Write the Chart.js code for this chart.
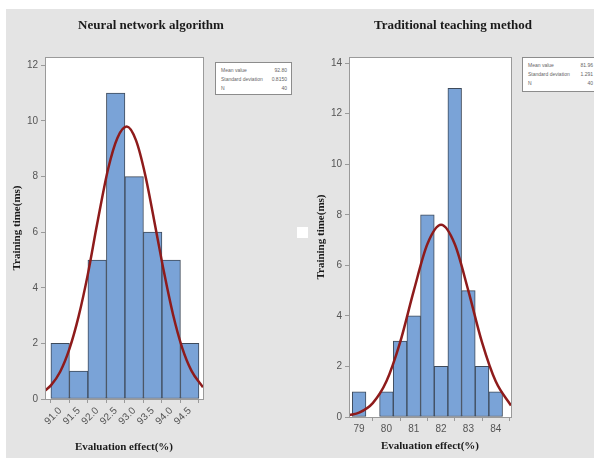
<!DOCTYPE html>
<html>
<head>
<meta charset="utf-8">
<script src="https://cdn.jsdelivr.net/npm/chart.js@4.4.1/dist/chart.umd.min.js"></script>
<style>
  body { margin: 0; width: 594px; height: 458px; overflow: hidden; position: relative; background: #fff; }
  #bg { position: absolute; left: 6px; top: 9px; width: 588px; height: 449px; background: #e4e4e4; }
  canvas { position: absolute; top: 0; }
  .title { position: absolute; top: 17px; transform: translateX(-50%); white-space: nowrap;
           font: bold 13px "Liberation Serif", "Times New Roman", serif; color: #1a1a1a; }
  .stats { position: absolute; background: #fff; border: 1px solid #8c8c8c; box-sizing: border-box;
           padding: 3px 4px 0 5px; font: 5px "Liberation Sans", Arial, sans-serif; color: #666; }
  .stats div { display: flex; justify-content: space-between; height: 9px; line-height: 9px; }
  #dot { position: absolute; left: 297px; top: 227px; width: 11px; height: 11px; background: #fff; }
</style>
</head>
<body>
<div id="bg"></div>
<canvas id="nn" width="300" height="458" style="left:0"></canvas>
<canvas id="tt" width="294" height="458" style="left:300px"></canvas>
<div class="title" style="left:151px">Neural network algorithm</div>
<div class="title" style="left:453px">Traditional teaching method</div>
<div class="stats" style="left:215px; top:62px; width:77px; height:33px">
  <div><span>Mean value</span><span>92.80</span></div>
  <div><span>Standard deviation</span><span>0.8150</span></div>
  <div><span>N</span><span>40</span></div>
</div>
<div class="stats" style="left:522px; top:57px; width:76px; height:35px">
  <div><span>Mean value</span><span>81.96</span></div>
  <div><span>Standard deviation</span><span>1.291</span></div>
  <div><span>N</span><span>40</span></div>
</div>
<div id="dot"></div>
<script>
// neural network algorithm - histogram bins (bin centres) and counts
var nnBins = [91.0, 91.5, 92.0, 92.5, 93.0, 93.5, 94.0, 94.5];
var nnCounts = [2, 1, 5, 11, 8, 6, 5, 2];
// fitted curve
var nnCurveX = [90.59, 90.75, 91.0, 91.25, 91.5, 91.75, 92.0, 92.3, 92.55, 92.8, 93.05, 93.3, 93.6, 93.8, 94.05, 94.3, 94.55, 94.86];
var nnCurveY = [0.3, 0.49, 0.98, 1.8, 2.98, 4.5, 6.3, 8.3, 9.4, 9.8, 9.3, 8.05, 6.0, 4.6, 3.04, 1.83, 1.01, 0.42];
var nnXTicks = [91.0, 91.5, 92.0, 92.5, 93.0, 93.5, 94.0, 94.5];
var nnYTicks = [0, 2, 4, 6, 8, 10, 12];

// traditional teaching method
var ttBins = [79.0, 79.5, 80.0, 80.5, 81.0, 81.5, 82.0, 82.5, 83.0, 83.5, 84.0];
var ttCounts = [1, 0, 1, 3, 4, 8, 2, 13, 5, 2, 1];
var ttCurveX = [78.63, 79.0, 79.5, 80.0, 80.5, 81.0, 81.5, 82.0, 82.5, 83.0, 83.5, 84.0, 84.56];
var ttCurveY = [0.07, 0.17, 0.55, 1.41, 2.95, 4.99, 6.84, 7.6, 6.84, 4.99, 2.95, 1.41, 0.45];
var ttXTicks = [79, 80, 81, 82, 83, 84];
var ttYTicks = [0, 2, 4, 6, 8, 10, 12, 14];

var axisColor = '#9a9a9a';

// white plot area + grey frame round it
var frame = {
    id: 'frame',
    beforeDraw: function(chart) {
        var a = chart.chartArea, ctx = chart.ctx;
        ctx.save();
        ctx.fillStyle = '#fff';
        ctx.fillRect(a.left, a.top, a.right - a.left, a.bottom - a.top);
        ctx.restore();
    },
    afterDraw: function(chart) {
        var a = chart.chartArea, ctx = chart.ctx;
        ctx.save();
        ctx.strokeStyle = axisColor;
        ctx.lineWidth = 1;
        ctx.strokeRect(Math.round(a.left) + 0.5, Math.round(a.top) + 0.5, Math.round(a.right - a.left), Math.round(a.bottom - a.top));
        ctx.restore();
    }
};

function histChart(id, bins, counts, curveX, curveY, xTicks, yTicks, o) {
    var ctx = document.getElementById(id).getContext('2d');
    var titleFont = { family: 'Liberation Serif', size: 11, weight: 'bold' };
    var tickFont = { family: 'Liberation Sans', size: 10 };
    return new Chart(ctx, {
        type: 'bar',
        data: {
            datasets: [{
                type: 'line',
                data: curveX.map((x, i) => ({ x: x, y: curveY[i] })),
                borderColor: '#8e1b1b',
                borderWidth: 2.5,
                pointRadius: 0,
                cubicInterpolationMode: 'monotone',
                order: 0
            }, {
                type: 'bar',
                data: bins.map((x, i) => ({ x: x, y: counts[i] })),
                backgroundColor: '#7aa3d7',
                borderColor: '#3e4a5a',
                borderWidth: 1,
                borderSkipped: false,
                barPercentage: 1,
                categoryPercentage: 1,
                order: 1
            }]
        },
        options: {
            responsive: false,
            animation: false,
            devicePixelRatio: 1,
            layout: { padding: { top: 57, right: o.padRight, left: 0, bottom: 0 } },
            plugins: { legend: { display: false }, tooltip: { enabled: false } },
            scales: {
                x: {
                    type: 'linear',
                    min: o.xMin,
                    max: o.xMax,
                    offset: false,
                    afterBuildTicks: function(s) { s.ticks = xTicks.map(v => ({ value: v })); },
                    afterFit: function(s) { s.height = o.xHeight; },
                    ticks: {
                        font: tickFont,
                        color: '#555',
                        padding: 2,
                        minRotation: o.rot,
                        maxRotation: o.rot,
                        callback: function(v) { return v.toFixed(o.dec); }
                    },
                    grid: { drawOnChartArea: false, tickLength: 4, color: axisColor },
                    border: { color: axisColor },
                    title: {
                        display: true,
                        text: 'Evaluation effect(%)',
                        font: titleFont,
                        color: '#1a1a1a',
                        padding: { top: 0, bottom: o.xTitlePad }
                    }
                },
                y: {
                    min: 0,
                    max: o.yMax,
                    afterBuildTicks: function(s) { s.ticks = yTicks.map(v => ({ value: v })); },
                    afterFit: function(s) { s.width = o.yWidth; },
                    ticks: { font: tickFont, color: '#555', padding: 3 },
                    grid: { drawOnChartArea: false, tickLength: 4, color: axisColor },
                    border: { color: axisColor },
                    title: {
                        display: true,
                        text: 'Training time(ms)',
                        font: titleFont,
                        color: '#1a1a1a',
                        padding: { top: o.yTitlePad, bottom: 0 }
                    }
                }
            }
        },
        plugins: [frame]
    });
}

histChart('nn', nnBins, nnCounts, nnCurveX, nnCurveY, nnXTicks, nnYTicks, {
    xMin: 90.59, xMax: 94.86, yMax: 12.3, dec: 1, rot: 45,
    padRight: 97, yWidth: 45, xHeight: 59, xTitlePad: 4, yTitlePad: 11
});
histChart('tt', ttBins, ttCounts, ttCurveX, ttCurveY, ttXTicks, ttYTicks, {
    xMin: 78.63, xMax: 84.56, yMax: 14.24, dec: 0, rot: 0,
    padRight: 83, yWidth: 49, xHeight: 41, xTitlePad: 5, yTitlePad: 15
});
</script>
</body>
</html>
